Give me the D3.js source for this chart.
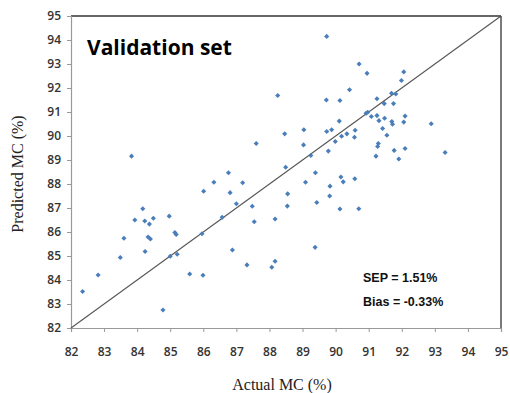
<!DOCTYPE html>
<html>
<head>
<meta charset="utf-8">
<script src="https://cdn.jsdelivr.net/npm/d3@7"></script>
<style>
  body { margin: 0; background: #fff; }
  .tick text { font-family: "Open Sans", sans-serif; font-weight: 600; font-size: 12px; fill: #333; }
</style>
</head>
<body>
<div id="chart"></div>
<script>
// actual vs predicted moisture content
var actual = [82.35, 82.82, 83.49, 83.60, 83.83, 83.93, 84.17, 84.23, 84.24, 84.37,
  84.33, 84.40, 84.49, 84.78, 84.97, 85.00, 85.14, 85.18, 85.21, 85.59,
  85.96, 86.01, 85.99, 86.32, 86.57, 86.76, 86.81, 86.88, 87.00, 87.19,
  87.32, 87.48, 87.54, 87.60, 88.07, 88.17, 88.17, 88.25, 88.46, 88.49,
  88.55, 88.54, 89.04, 89.03, 89.09, 89.25, 89.39, 89.43, 89.38, 89.73,
  89.72, 89.73, 89.78, 89.88, 89.83, 89.82, 89.99, 90.11, 90.13, 90.18,
  90.16, 90.23, 90.13, 90.34, 90.42, 90.57, 90.59, 90.58, 90.70, 90.71,
  90.95, 90.92, 90.97, 91.08, 91.25, 91.25, 91.31, 91.29, 91.27, 91.22,
  91.42, 91.48, 91.47, 91.55, 91.69, 91.82, 91.75, 91.70, 91.72, 91.77,
  91.91, 91.99, 92.06, 92.06, 92.10, 92.10, 92.89, 93.31];
var predicted = [83.52, 84.21, 84.94, 85.74, 89.16, 86.50, 86.97, 86.46, 85.19, 86.33,
  85.79, 85.71, 86.57, 82.75, 86.66, 84.99, 85.98, 85.90, 85.07, 84.25,
  85.93, 87.70, 84.20, 88.07, 86.61, 88.47, 87.64, 85.25, 87.18, 88.05,
  84.63, 87.07, 86.43, 89.69, 84.53, 84.78, 86.54, 91.69, 90.09, 88.70,
  87.59, 87.08, 90.26, 89.63, 88.07, 89.19, 88.47, 87.23, 85.36, 94.15,
  91.50, 90.19, 89.37, 90.26, 87.91, 87.50, 89.77, 90.62, 91.48, 89.99,
  88.29, 88.09, 86.96, 90.09, 91.93, 89.95, 90.24, 88.22, 86.97, 93.00,
  92.61, 90.95, 90.99, 90.81, 91.55, 90.85, 90.64, 89.69, 89.56, 89.16,
  90.31, 90.74, 91.35, 90.03, 91.78, 91.75, 91.35, 90.60, 90.49, 89.40,
  89.04, 92.31, 92.67, 90.58, 90.83, 89.48, 90.51, 89.31];
var ticks = d3.range(82, 96);
var stats = ["SEP = 1.51%", "Bias = -0.33%"];

var fullWidth = 510, fullHeight = 393;
var margin = {top: 16, right: 9, bottom: 65, left: 71},
    width = fullWidth - margin.left - margin.right,
    height = fullHeight - margin.top - margin.bottom;

var svg = d3.select("#chart").append("svg")
    .attr("width", fullWidth)
    .attr("height", fullHeight);

var g = svg.append("g")
    .attr("transform", "translate(" + margin.left + "," + margin.top + ")");

var x = d3.scaleLinear().domain([82, 95]).range([0, width]);
var y = d3.scaleLinear().domain([82, 95]).range([height, 0]);

// frame: top and right edges darker
g.append("line").attr("x1", 0).attr("x2", width).attr("y1", 0).attr("y2", 0)
    .attr("stroke", "#333").attr("stroke-width", 1.3);
g.append("line").attr("x1", width).attr("x2", width).attr("y1", 0).attr("y2", height)
    .attr("stroke", "#333").attr("stroke-width", 1.3);

var xAxis = g.append("g")
    .attr("transform", "translate(0," + height + ")")
    .call(d3.axisBottom(x).tickValues(ticks).tickSize(4).tickPadding(15).tickFormat(d3.format("d")));
var yAxis = g.append("g")
    .call(d3.axisLeft(y).tickValues(ticks).tickSize(4).tickPadding(6).tickFormat(d3.format("d")));
[xAxis, yAxis].forEach(function(a) {
  a.select(".domain").attr("stroke", "#999").attr("stroke-width", 1.2);
  a.selectAll(".tick line").attr("stroke", "#999");
});

// 1:1 line
g.append("line")
    .attr("x1", x(82)).attr("y1", y(82))
    .attr("x2", x(95)).attr("y2", y(95))
    .attr("stroke", "#555").attr("stroke-width", 1.1);

// Excel-style small diamond: square turned 45 degrees
var marker = d3.symbol().type(d3.symbolSquare).size(13);
g.selectAll(".pt")
    .data(actual)
    .enter()
    .append("path")
    .attr("class", "pt")
    .attr("d", marker)
    .attr("fill", "#4a7ebb")
    .attr("transform", function(d, i) { return "translate(" + x(d) + "," + y(predicted[i]) + ") rotate(45)"; });

g.append("text")
    .attr("x", 16).attr("y", 39)
    .style("font-family", "'Open Sans', sans-serif")
    .style("font-weight", "700")
    .style("font-size", "21px")
    .style("fill", "#000")
    .text("Validation set");

g.selectAll(".stat")
    .data(stats)
    .enter()
    .append("text")
    .attr("class", "stat")
    .attr("x", 292)
    .attr("y", function(d, i) { return 266 + i * 24; })
    .style("font-family", "'Liberation Sans', Arial, sans-serif")
    .style("font-weight", "700")
    .style("font-size", "12.5px")
    .style("fill", "#111")
    .text(function(d) { return d; });

svg.append("text")
    .attr("x", margin.left + width / 2 - 4)
    .attr("y", 390)
    .attr("text-anchor", "middle")
    .style("font-family", "'Liberation Serif', 'Times New Roman', serif")
    .style("font-size", "16px")
    .style("fill", "#222")
    .text("Actual MC (%)");

svg.append("text")
    .attr("transform", "translate(23," + (margin.top + height / 2 + 2) + ") rotate(-90)")
    .attr("text-anchor", "middle")
    .style("font-family", "'Liberation Serif', 'Times New Roman', serif")
    .style("font-size", "16px")
    .style("fill", "#222")
    .text("Predicted MC (%)");
</script>
</body>
</html>
